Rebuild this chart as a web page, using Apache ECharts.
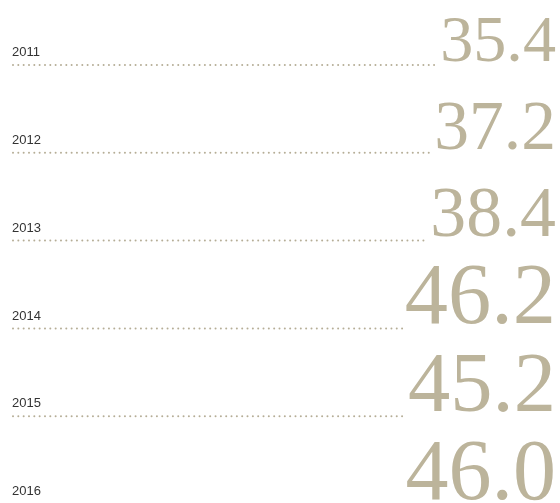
<!DOCTYPE html>
<html lang="en">
	<head>
		<meta charset="UTF-8" />
		<title>Document</title>
		<script src="https://cdn.jsdelivr.net/npm/echarts@6/dist/echarts.min.js"></script>
		<style>
			* {
				margin: 0;
				padding: 0;
			}
			html,
			body {
				height: 100%;
				background: #fff;
			}
		</style>
	</head>
	<body>
		<div id="main" style="height:503px;width:560px;"></div>

		<script type="text/javascript">
			// 数据
			var years = ["2011", "2012", "2013", "2014", "2015", "2016"];
			var values = [35.4, 37.2, 38.4, 46.2, 45.2, 46.0];

			var numColor = "#bcb49b";
			var dotColor = "#b5ad96";
			var numFont = '"Liberation Serif", "DejaVu Serif", serif';
			var sizeK = 1.87; // 字号随数值变化
			var dotGap = 5.33;

			var measureCtx = document.createElement("canvas").getContext("2d");
			function textWidth(txt, size) {
				measureCtx.font = size + "px " + numFont;
				return measureCtx.measureText(txt).width;
			}

			var seriesData = values.map(function(v, i) {
				return [i, v];
			});

			var option = {
				animation: false,
				grid: {
					top: 65,
					bottom: 0,
					left: 12,
					right: 4
				},
				xAxis: {
					type: "value",
					min: 0,
					max: 1,
					show: false
				},
				// 行号 -> 纵坐标，最后一行略超出画布
				yAxis: {
					type: "value",
					inverse: true,
					min: 0,
					max: 4.988,
					show: false
				},
				series: [
					{
						type: "custom",
						data: seriesData,
						encode: { y: 0 },
						clip: false,
						renderItem: function(params, api) {
							var idx = api.value(0);
							var val = api.value(1);
							var left = api.coord([0, idx]);
							var right = api.coord([1, idx]);
							var baseY = left[1];
							var size = val * sizeK;
							var txt = val.toFixed(1);
							var w = textWidth(txt, size);
							var numLeft = right[0] - w;
							var children = [];
							// 点线
							for (var x = left[0] + 1; x < numLeft - 2; x += dotGap) {
								children.push({
									type: "circle",
									shape: { cx: x, cy: baseY, r: 1 },
									style: { fill: dotColor }
								});
							}
							children.push({
								type: "text",
								style: {
									text: years[idx],
									x: left[0],
									y: baseY - 8 - 13 * 0.3465,
									verticalAlign: "middle",
									align: "left",
									fontSize: 13,
									fontFamily: '"Liberation Sans", Arial, sans-serif',
									fill: "#333"
								}
							});
							children.push({
								type: "text",
								style: {
									text: txt,
									x: right[0],
									y: baseY + 1 - size * 0.3375,
									verticalAlign: "middle",
									align: "right",
									fontSize: size,
									fontFamily: numFont,
									fill: numColor
								}
							});
							return { type: "group", children: children };
						}
					}
				]
			};

			var myChart = echarts.init(document.getElementById("main"));
			myChart.setOption(option);
		</script>
	</body>
</html>
